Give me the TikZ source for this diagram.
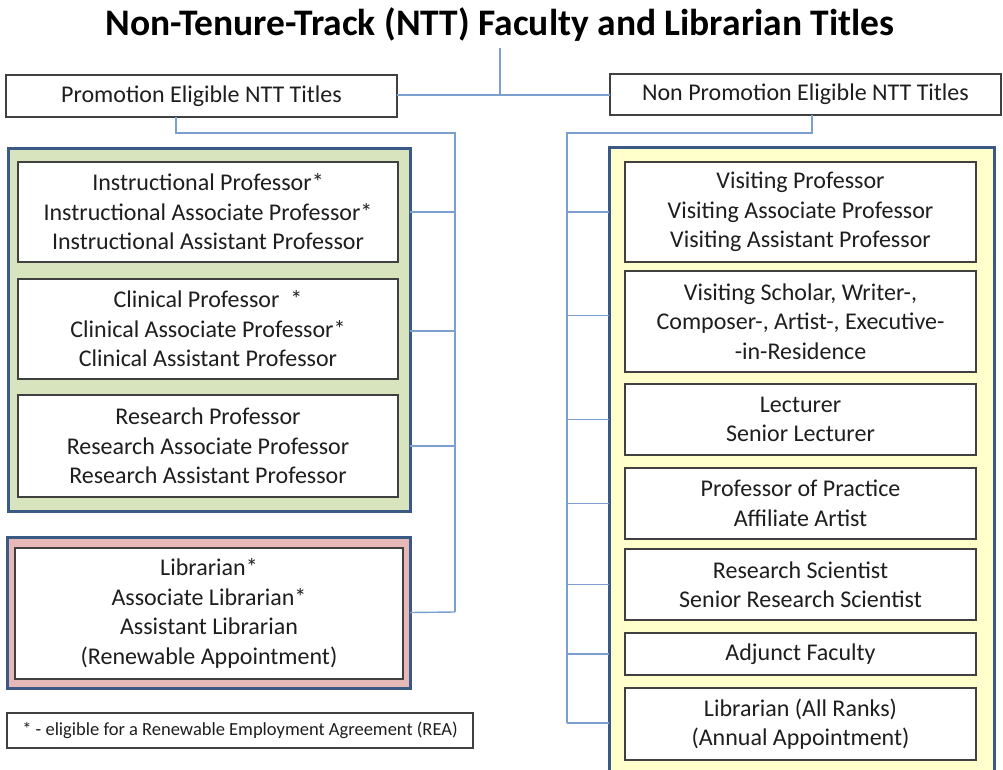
\documentclass[tikz,border=0pt]{standalone}
\usepackage{fontspec}
\setmainfont{Carlito}
\definecolor{boxblue}{HTML}{3A5A85}
\definecolor{innergray}{HTML}{404040}
\definecolor{connblue}{HTML}{7C9FD0}
\definecolor{greenfill}{HTML}{D7E4BD}
\definecolor{pinkfill}{HTML}{E6B9B8}
\definecolor{yellowfill}{HTML}{FFFFCC}
\definecolor{txt}{HTML}{1E1E1E}
\begin{document}
\begin{tikzpicture}[x=1pt,y=-1pt,
  outerbox/.style={draw=boxblue, line width=3pt, inner sep=0pt, outer sep=0pt},
  innerbox/.style={draw=innergray, line width=1.8pt, fill=white, inner sep=0pt, outer sep=0pt,
    align=center, text=txt, font=\fontsize{24}{29.5}\selectfont},
  titlebox/.style={draw=innergray, line width=1.3pt, fill=white, inner sep=0pt, outer sep=0pt,
    align=center, text=txt, font=\fontsize{24}{28}\selectfont},
  conn/.style={draw=connblue, line width=1.4pt},
  sz/.style 2 args={minimum width=#1pt, minimum height=#2pt}]
\useasboundingbox (0,0) rectangle (1003,770);
\fill[white] (0,0) rectangle (1003,770);

% title
\node[font=\fontsize{37.5}{42}\bfseries\selectfont, text=black] (title) at (500,25) {Non-Tenure-Track (NTT) Faculty and Librarian Titles};
\coordinate (tjoin) at (500,95);
\coordinate (ttop) at (500,48);

\node[titlebox, sz={391}{42}] (ltitle) at (201.5,96) {Promotion Eligible NTT Titles};
\node[titlebox, sz={391}{41}] (rtitle) at (805.5,94.5) {Non Promotion Eligible NTT Titles};

% left outer boxes
\node[outerbox, fill=greenfill, sz={402}{362}] (green) at (209,330) {};
\node[innerbox, sz={380}{100}] (inst) at (208,212) {Instructional Professor*\\Instructional Associate Professor*\\Instructional Assistant Professor};
\node[innerbox, sz={380}{100}] (clin) at (208,329) {Clinical Professor~ *\\Clinical Associate Professor*\\Clinical Assistant Professor};
\node[innerbox, sz={380}{102}] (res) at (208,446) {Research Professor\\Research Associate Professor\\Research Assistant Professor};

\node[outerbox, fill=pinkfill, sz={403}{151}] (pink) at (208.5,612.5) {};
\node[innerbox, sz={388}{131}] (lib) at (209,613.5) {Librarian*\\Associate Librarian*\\Assistant Librarian\\(Renewable Appointment)};

\node[titlebox, line width=1.5pt, sz={466}{35}, font=\fontsize{18.5}{22}\selectfont] (foot) at (240,730.5) {* - eligible for a Renewable Employment Agreement (REA)};

% right outer box
\node[outerbox, fill=yellowfill, sz={385}{640}] (yellow) at (801.5,468) {};
\node[innerbox, sz={351}{100}] (vp) at (800.5,212) {Visiting Professor\\Visiting Associate Professor\\Visiting Assistant Professor};
\node[innerbox, sz={351}{101}] (vs) at (800.5,321.5) {Visiting Scholar, Writer-,\\Composer-, Artist-, Executive-\\-in-Residence};
\node[innerbox, sz={351}{71}] (lect) at (800.5,419.5) {Lecturer\\Senior Lecturer};
\node[innerbox, sz={351}{71}] (pop) at (800.5,503.5) {Professor of Practice\\Affiliate Artist};
\node[innerbox, sz={351}{71}] (rs) at (800.5,584.5) {Research Scientist\\Senior Research Scientist};
\node[innerbox, sz={351}{42}] (adj) at (800.5,654) {Adjunct Faculty};
\node[innerbox, sz={351}{72}] (rlib) at (800.5,724) {Librarian (All Ranks)\\(Annual Appointment)};

% connectors: top
\draw[conn] (ttop) -- (tjoin);
\draw[conn] (ltitle.east |- tjoin) -- (rtitle.west |- tjoin);

% left bus
\coordinate (lbus) at (455,133);
\coordinate (lbusend) at (455,612);
\draw[conn] (ltitle.south -| 176,0) -- (176,133) -- (lbus) -- (lbusend);
\draw[conn] (inst.center -| green.east) -- (inst.center -| lbus);
\draw[conn] ([yshift=-2pt]clin.center -| green.east) -- ([yshift=-2pt]clin.center -| lbus);
\draw[conn] (res.center -| green.east) -- (res.center -| lbus);
\draw[conn] (pink.east) -- (lbusend);

% right bus
\coordinate (rbus) at (567,133);
\coordinate (rbusend) at (567,723);
\draw[conn] (rtitle.south -| 812,0) -- (812,133) -- (rbus) -- (rbusend);
\draw[conn] (vp.center -| yellow.west) -- (vp.center -| rbus);
\draw[conn] ([yshift=6pt]vs.center -| yellow.west) -- ([yshift=6pt]vs.center -| rbus);
\draw[conn] (lect.center -| yellow.west) -- (lect.center -| rbus);
\draw[conn] (pop.center -| yellow.west) -- (pop.center -| rbus);
\draw[conn] (rs.center -| yellow.west) -- (rs.center -| rbus);
\draw[conn] (adj.center -| yellow.west) -- (adj.center -| rbus);
\draw[conn] (rbusend -| yellow.west) -- (rbusend);
\end{tikzpicture}
\end{document}
